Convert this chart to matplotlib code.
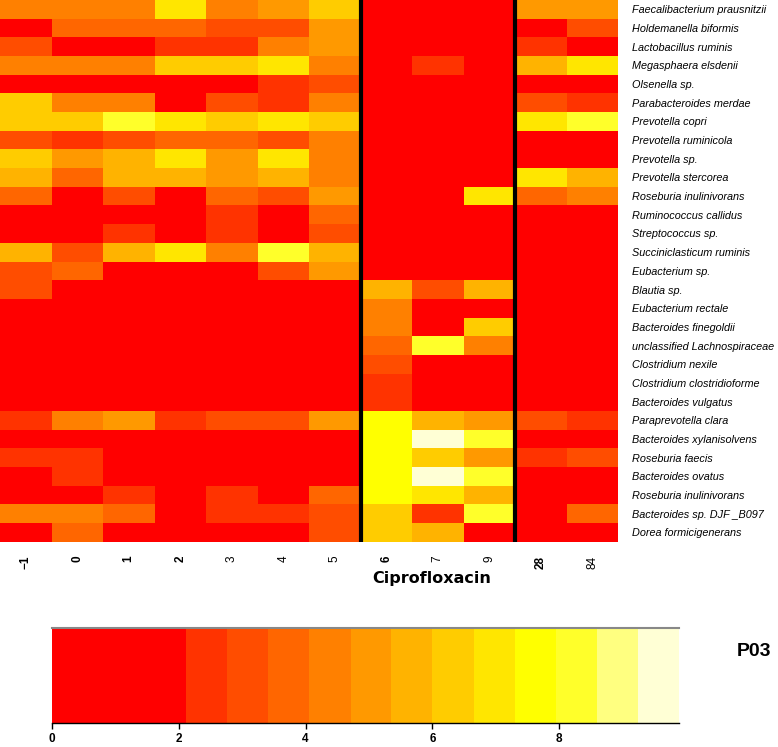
import matplotlib
matplotlib.use("Agg")
import matplotlib.pyplot as plt
import numpy as np
from matplotlib.colors import ListedColormap, BoundaryNorm

plt.rcParams['font.family'] = ['Liberation Sans', 'DejaVu Sans']

species = [
    "Faecalibacterium prausnitzii", "Holdemanella biformis", "Lactobacillus ruminis",
    "Megasphaera elsdenii", "Olsenella sp.", "Parabacteroides merdae", "Prevotella copri",
    "Prevotella ruminicola", "Prevotella sp.", "Prevotella stercorea",
    "Roseburia inulinivorans", "Ruminococcus callidus", "Streptococcus sp.",
    "Succiniclasticum ruminis", "Eubacterium sp.", "Blautia sp.", "Eubacterium rectale",
    "Bacteroides finegoldii", "unclassified Lachnospiraceae", "Clostridium nexile",
    "Clostridium clostridioforme", "Bacteroides vulgatus", "Paraprevotella clara",
    "Bacteroides xylanisolvens", "Roseburia faecis", "Bacteroides ovatus",
    "Roseburia inulinivorans", "Bacteroides sp. DJF _B097", "Dorea formicigenerans",
]
days = ["\u22121", "0", "1", "2", "3", "4", "5", "6", "7", "9", "28", "84"]
bold_days = ["\u22121", "0", "1", "2", "6", "28"]

# one list per sampling day, rows follow `species`
day_m1 = [4.4, 1.0, 3.1, 4.4, 1.0, 6.3, 6.3, 3.1, 6.3, 5.7, 3.7, 1.0, 1.0, 5.7, 3.1,
          3.1, 1.0, 1.0, 1.0, 1.0, 1.0, 1.0, 2.4, 1.0, 2.4, 1.0, 1.0, 4.4, 1.0]
day_0 = [4.4, 3.7, 1.0, 4.4, 1.0, 4.4, 6.3, 2.4, 5.0, 3.7, 1.0, 1.0, 1.0, 3.1, 3.7,
         1.0, 1.0, 1.0, 1.0, 1.0, 1.0, 1.0, 4.4, 1.0, 2.4, 2.4, 1.0, 4.4, 3.7]
day_1 = [4.4, 3.7, 1.0, 4.4, 1.0, 4.4, 8.3, 3.1, 5.7, 5.7, 3.1, 1.0, 2.4, 5.7, 1.0,
         1.0, 1.0, 1.0, 1.0, 1.0, 1.0, 1.0, 5.0, 1.0, 1.0, 1.0, 2.4, 3.7, 1.0]
day_2 = [7.0, 3.7, 2.4, 6.3, 1.0, 1.0, 7.0, 3.7, 7.0, 5.7, 1.0, 1.0, 1.0, 7.0, 1.0,
         1.0, 1.0, 1.0, 1.0, 1.0, 1.0, 1.0, 2.4, 1.0, 1.0, 1.0, 1.0, 1.0, 1.0]
day_3 = [4.4, 3.1, 2.4, 6.3, 1.0, 3.1, 6.3, 3.7, 5.0, 5.0, 3.7, 2.4, 2.4, 4.4, 1.0,
         1.0, 1.0, 1.0, 1.0, 1.0, 1.0, 1.0, 3.1, 1.0, 1.0, 1.0, 2.4, 2.4, 1.0]
day_4 = [5.0, 3.1, 4.4, 7.0, 2.4, 2.4, 7.0, 3.1, 7.0, 5.7, 3.1, 1.0, 1.0, 8.3, 3.1,
         1.0, 1.0, 1.0, 1.0, 1.0, 1.0, 1.0, 3.1, 1.0, 1.0, 1.0, 1.0, 2.4, 1.0]
day_5 = [6.3, 5.0, 5.0, 4.4, 3.1, 4.4, 6.3, 4.4, 4.4, 4.4, 5.0, 3.7, 3.1, 5.7, 5.0,
         1.0, 1.0, 1.0, 1.0, 1.0, 1.0, 1.0, 5.0, 1.0, 1.0, 1.0, 3.7, 3.1, 3.1]
day_6 = [1.0, 1.0, 1.0, 1.0, 1.0, 1.0, 1.0, 1.0, 1.0, 1.0, 1.0, 1.0, 1.0, 1.0, 1.0,
         5.7, 4.4, 4.4, 3.7, 3.1, 2.4, 2.4, 7.6, 7.6, 7.6, 7.6, 7.6, 6.3, 6.3]
day_7 = [1.0, 1.0, 1.0, 2.4, 1.0, 1.0, 1.0, 1.0, 1.0, 1.0, 1.0, 1.0, 1.0, 1.0, 1.0,
         3.1, 1.0, 1.0, 8.3, 1.0, 1.0, 1.0, 5.7, 9.6, 6.3, 9.6, 7.0, 2.4, 5.7]
day_9 = [1.0, 1.0, 1.0, 1.0, 1.0, 1.0, 1.0, 1.0, 1.0, 1.0, 7.0, 1.0, 1.0, 1.0, 1.0,
         5.7, 1.0, 6.3, 4.4, 1.0, 1.0, 1.0, 5.0, 8.3, 5.0, 8.3, 5.7, 8.3, 1.0]
day_28 = [5.0, 1.0, 2.4, 5.7, 1.0, 3.1, 7.0, 1.0, 1.0, 7.0, 3.7, 1.0, 1.0, 1.0, 1.0,
          1.0, 1.0, 1.0, 1.0, 1.0, 1.0, 1.0, 3.1, 1.0, 2.4, 1.0, 1.0, 1.0, 1.0]
day_84 = [5.0, 3.1, 1.0, 7.0, 1.0, 2.4, 8.3, 1.0, 1.0, 5.7, 4.4, 1.0, 1.0, 1.0, 1.0,
          1.0, 1.0, 1.0, 1.0, 1.0, 1.0, 1.0, 2.4, 1.0, 3.1, 1.0, 1.0, 3.7, 1.0]

# colour key
key_bounds = [0, 2.11, 2.76, 3.41, 4.06, 4.71, 5.35, 6.0, 6.65, 7.3, 7.95, 8.6, 9.25, 9.89]
key_colors = ["#FF0000", "#FF3300", "#FF4D00", "#FF6600", "#FF8000", "#FF9900", "#FFB300",
              "#FFCC00", "#FFE600", "#FFFF00", "#FFFF2A", "#FFFF80", "#FFFFD5"]
key_ticks = [0, 2, 4, 6, 8]

data = np.column_stack([day_m1, day_0, day_1, day_2, day_3, day_4, day_5,
                        day_6, day_7, day_9, day_28, day_84])
cmap = ListedColormap(key_colors)
norm = BoundaryNorm(key_bounds, cmap.N)

W, H = 778, 747
fig = plt.figure(figsize=(W / 100, H / 100), dpi=100)

# heatmap
hm_bottom = 541.7
ax = fig.add_axes([0, 1 - hm_bottom / H, 618 / W, hm_bottom / H])
ax.pcolormesh(np.arange(len(days) + 1), np.arange(len(species) + 1), data,
              cmap=cmap, norm=norm)
ax.set_xlim(0, len(days))
ax.set_ylim(len(species), 0)
for s in ax.spines.values():
    s.set_visible(False)

ax.yaxis.tick_right()
ax.set_yticks(np.arange(len(species)) + 0.5)
ax.set_yticklabels(species, fontstyle='italic', fontsize=7.8)
ax.tick_params(axis='y', length=0, pad=10)

ax.set_xticks(np.arange(len(days)) + 0.5)
ax.set_xticklabels(days, rotation=90, fontsize=8.5, va='top', ha='center')
ax.tick_params(axis='x', length=0, pad=10)
for lab in ax.get_xticklabels():
    if lab.get_text() in bold_days:
        lab.set_fontweight('bold')

# treatment window separators
ax.axvline(7, color='black', lw=3)
ax.axvline(10, color='black', lw=3)

fig.text(432 / W, 1 - 578 / H, "Ciprofloxacin", ha='center', va='center',
         fontsize=11.5, fontweight='bold', family='DejaVu Sans')

# colour key
cax = fig.add_axes([52 / W, 1 - 723 / H, 627 / W, 95 / H])
mids = [(a + b) / 2 for a, b in zip(key_bounds[:-1], key_bounds[1:])]
cax.pcolormesh(key_bounds, [0, 1], np.array([mids]), cmap=cmap, norm=norm)
cax.set_xlim(key_bounds[0], key_bounds[-1])
cax.set_ylim(0, 1)
cax.set_yticks([])
cax.set_xticks(key_ticks)
cax.set_xticklabels([str(t) for t in key_ticks], fontsize=8.5, fontweight='bold')
cax.tick_params(axis='x', length=4, width=1, pad=3.5)
cax.spines['left'].set_visible(False)
cax.spines['right'].set_visible(False)
cax.spines['top'].set_color('#888888')
cax.spines['top'].set_linewidth(1.5)
cax.spines['bottom'].set_linewidth(1)

fig.text(754 / W, 1 - 652 / H, "P03", ha='center', va='center',
         fontsize=14, fontweight='bold')

fig.savefig("out.png", dpi=100)
